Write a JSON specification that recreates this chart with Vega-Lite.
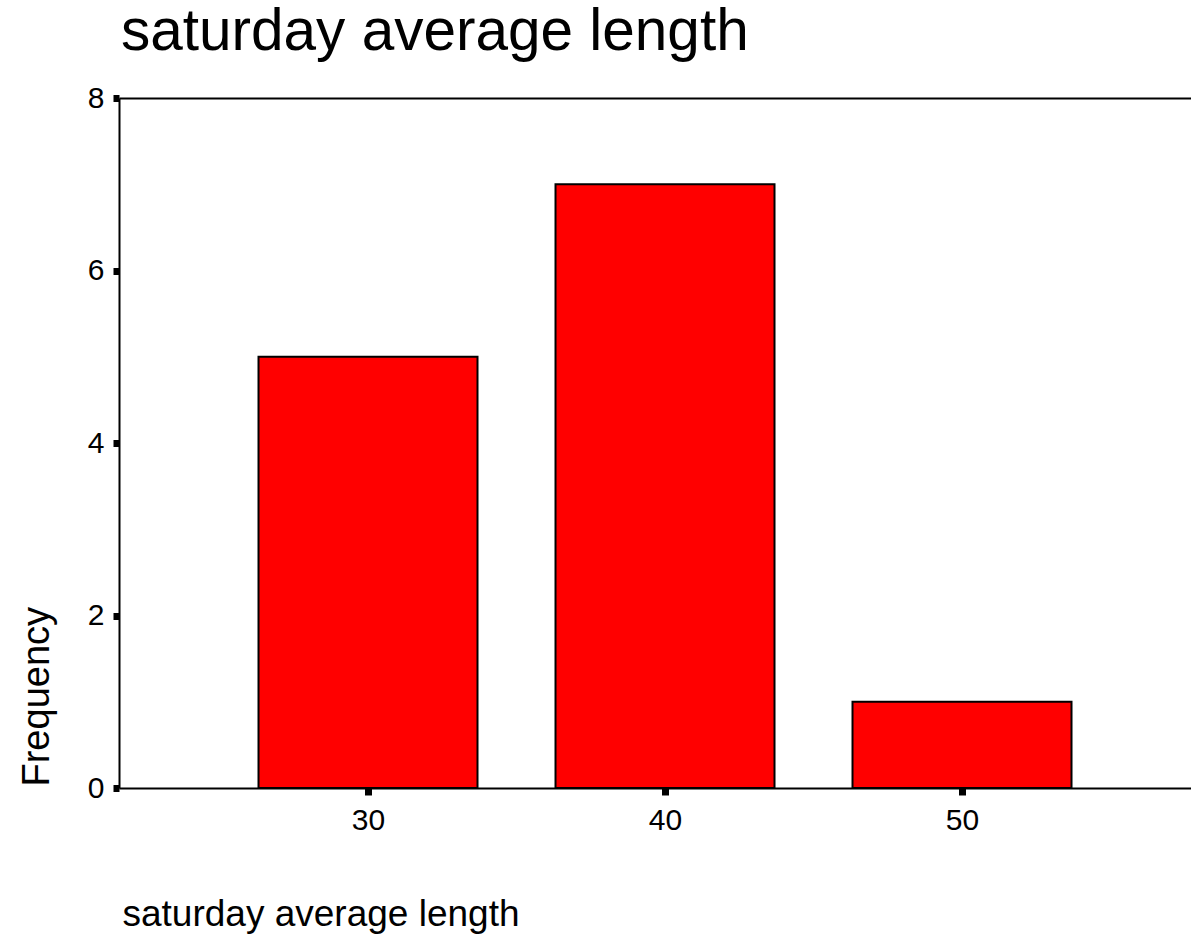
{
  "$schema": "https://vega.github.io/schema/vega-lite/v6.json",
  "autosize": "none",
  "padding": {"left": 119, "top": 98, "right": 0, "bottom": 150},
  "width": 1072,
  "height": 690,
  "background": "white",
  "title": {
    "text": "saturday average length",
    "anchor": "start",
    "frame": "group",
    "font": "Liberation Sans",
    "fontSize": 58.5,
    "fontWeight": "normal",
    "color": "black",
    "offset": 21,
    "dx": 2
  },
  "config": {
    "view": {"stroke": null},
    "axis": {
      "labelFont": "Liberation Sans",
      "titleFont": "Liberation Sans",
      "labelColor": "black",
      "titleColor": "black",
      "domainColor": "black",
      "domainWidth": 2,
      "tickColor": "black",
      "grid": false,
      "titleFontWeight": "normal"
    }
  },
  "data": {
    "values": [
      {"length": 30, "frequency": 5},
      {"length": 40, "frequency": 7},
      {"length": 50, "frequency": 1}
    ]
  },
  "layer": [
    {
      "mark": {"type": "bar", "color": "#ff0000", "stroke": "black", "strokeWidth": 2, "width": 219},
      "encoding": {
        "x": {
          "field": "length",
          "type": "quantitative",
          "scale": {"domain": [21.616, 57.71], "nice": false, "zero": false, "padding": 0},
          "axis": {
            "orient": "bottom",
            "values": [30, 40, 50],
            "format": "d",
            "title": "saturday average length",
            "titleFontSize": 37,
            "titleX": 3,
            "titleY": 137,
            "titleAlign": "left",
            "titleAnchor": "start",
            "titleBaseline": "alphabetic",
            "labelFontSize": 30,
            "labelBaseline": "alphabetic",
            "labelPadding": 34,
            "tickSize": 7,
            "tickWidth": 7
          }
        },
        "y": {
          "field": "frequency",
          "type": "quantitative",
          "scale": {"domain": [0, 8], "nice": false, "padding": 0},
          "axis": {
            "values": [0, 2, 4, 6, 8],
            "format": "d",
            "title": "Frequency",
            "titleFontSize": 38,
            "titleAngle": -90,
            "titleX": -71,
            "titleY": 688,
            "titleAlign": "left",
            "titleAnchor": "start",
            "titleBaseline": "alphabetic",
            "labelFontSize": 30,
            "labelPadding": 9,
            "tickSize": 6,
            "tickWidth": 7
          }
        }
      }
    },
    {
      "mark": {"type": "point", "opacity": 0},
      "encoding": {
        "x": {
          "field": "length",
          "type": "quantitative",
          "axis": {
            "orient": "top",
            "title": null,
            "labels": false,
            "ticks": false
          }
        },
        "y": {"field": "frequency", "type": "quantitative"}
      }
    }
  ],
  "resolve": {"axis": {"x": "independent"}}
}
